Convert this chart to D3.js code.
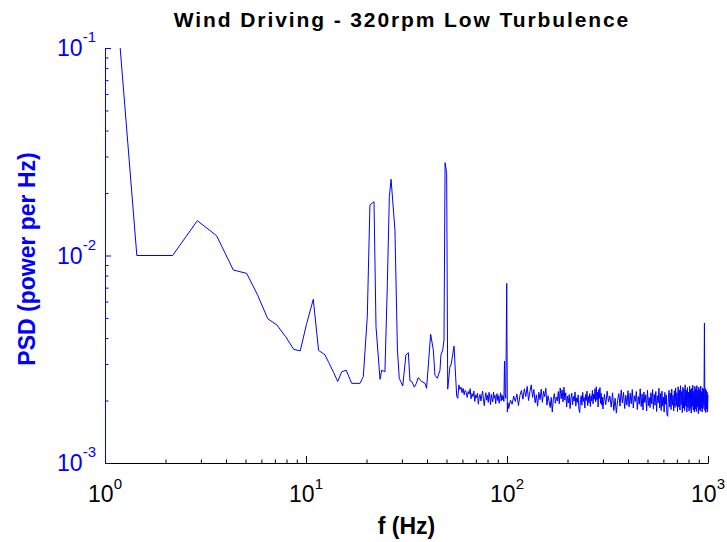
<!DOCTYPE html>
<html>
<head>
<meta charset="utf-8">
<script src="https://cdn.jsdelivr.net/npm/d3@7"></script>
<style>
  body { margin: 0; background: #fff; }
  text { font-family: "Liberation Sans", Arial, sans-serif; }
</style>
</head>
<body>
<div id="chart"></div>
<script>
const width = 727;
const height = 542;

// low-frequency part, read point by point (Hz, power per Hz)
const lowFreq = [1.19, 1.44, 2.17, 2.88, 3.59, 4.35, 5.07, 5.74, 6.45, 7.17,
  7.92, 8.69, 9.36, 10.05, 10.87, 11.55, 12.43, 12.98, 13.72, 14.38,
  15.05, 15.84, 16.88, 18.56, 19.28, 20.18, 20.8, 21.79, 22.3, 23.35,
  23.8, 24.7, 25.4, 25.98, 26.5, 27.7, 28.5, 29.1, 30.3, 31.4,
  32.3, 32.9, 33.6, 34.6, 35.4, 36.2, 37.6, 39.1, 39.8, 41.7,
  43.0, 43.8, 45.0, 46.4, 46.9, 47.9, 48.6, 49.2, 50.1, 50.7,
  52.0, 52.8, 54.5, 56.2];
const lowPsd = [0.100, 0.0100, 0.0100, 0.01472, 0.01246, 0.00851, 0.00820, 0.00646, 0.00496, 0.00462,
  0.00406, 0.00353, 0.00347, 0.00465, 0.00615, 0.00349, 0.00332, 0.00305, 0.00273, 0.00247,
  0.00275, 0.00280, 0.00242, 0.00242, 0.00261, 0.00507, 0.0175, 0.01815, 0.00454, 0.00253,
  0.00280, 0.00275, 0.00734, 0.0192, 0.0233, 0.01327, 0.00351, 0.00256, 0.00235, 0.00331,
  0.00340, 0.00249, 0.00247, 0.00232, 0.00242, 0.00258, 0.00247, 0.00242, 0.00229, 0.00417,
  0.00351, 0.00265, 0.00256, 0.00280, 0.00331, 0.00351, 0.00392, 0.0280, 0.0249, 0.00227,
  0.00291, 0.00300, 0.00366, 0.00210];

// noise floor 56.9 - 96.5 Hz (bins every 0.72 Hz)
const noiseAStart = 56.9, noiseAStep = 0.72;
const noiseAPsd = [0.00205, 0.00238, 0.00226, 0.00232, 0.00218, 0.00229, 0.00213, 0.00224, 0.00219, 0.00207,
  0.00221, 0.00215, 0.00228, 0.00204, 0.00216, 0.00209, 0.00222, 0.00198, 0.00213, 0.00206,
  0.00217, 0.00192, 0.00208, 0.00214, 0.00199, 0.00211, 0.00222, 0.00203, 0.00189, 0.00207,
  0.00218, 0.00201, 0.00212, 0.00196, 0.00219, 0.00208, 0.00191, 0.00214, 0.00203, 0.00197,
  0.00220, 0.00205, 0.00212, 0.00193, 0.00209, 0.00216, 0.00200, 0.00211, 0.00194, 0.00207,
  0.00218, 0.00199, 0.00213, 0.00202, 0.00210, 0.00198];

// 100 Hz line
const spikeFreq = [97.2, 97.9, 98.6, 99.7, 100.4, 101.1];
const spikePsd = [0.00310, 0.00212, 0.00205, 0.00734, 0.00176, 0.00195];

// noise floor 102 - 300 Hz
const noiseBStart = 102, noiseBStep = 2;
const noiseBPsd = [0.00183, 0.00201, 0.00192, 0.00210, 0.00198, 0.00215, 0.00189, 0.00212, 0.00224, 0.00203,
  0.00228, 0.00209, 0.00234, 0.00200, 0.00221, 0.00238, 0.00207, 0.00226, 0.00195, 0.00213,
  0.00188, 0.00219, 0.00202, 0.00227, 0.00196, 0.00222, 0.00209, 0.00229, 0.00190, 0.00211,
  0.00198, 0.00185, 0.00207, 0.00176, 0.00203, 0.00216, 0.00194, 0.00208, 0.00199, 0.00221,
  0.00193, 0.00230, 0.00204, 0.00225, 0.00197, 0.00232, 0.00201, 0.00218, 0.00186, 0.00210,
  0.00195, 0.00214, 0.00183, 0.00205, 0.00217, 0.00191, 0.00209, 0.00199, 0.00220, 0.00188,
  0.00206, 0.00196, 0.00213, 0.00181, 0.00175, 0.00202, 0.00211, 0.00190, 0.00219, 0.00198,
  0.00207, 0.00184, 0.00214, 0.00200, 0.00222, 0.00189, 0.00209, 0.00195, 0.00216, 0.00187,
  0.00211, 0.00199, 0.00224, 0.00193, 0.00215, 0.00203, 0.00228, 0.00197, 0.00233, 0.00201,
  0.00219, 0.00186, 0.00226, 0.00205, 0.00231, 0.00194, 0.00217, 0.00190, 0.00208, 0.00182];

// noise floor 305 - 1000 Hz (includes the line near 960 Hz)
const noiseCStart = 305, noiseCStep = 5;
const noiseCPsd = [0.00214, 0.00191, 0.00222, 0.00197, 0.00210, 0.00186, 0.00218, 0.00179, 0.00205, 0.00174,
  0.00200, 0.00216, 0.00188, 0.00225, 0.00195, 0.00219, 0.00183, 0.00212, 0.00190, 0.00223,
  0.00186, 0.00217, 0.00193, 0.00226, 0.00184, 0.00211, 0.00198, 0.00221, 0.00181, 0.00209,
  0.00192, 0.00228, 0.00187, 0.00215, 0.00180, 0.00220, 0.00196, 0.00213, 0.00178, 0.00224,
  0.00189, 0.00207, 0.00185, 0.00218, 0.00193, 0.00226, 0.00182, 0.00214, 0.00190, 0.00221,
  0.00177, 0.00211, 0.00195, 0.00229, 0.00184, 0.00216, 0.00179, 0.00222, 0.00188, 0.00208,
  0.00176, 0.00219, 0.00192, 0.00213, 0.00171, 0.00168, 0.00205, 0.00224, 0.00186, 0.00217,
  0.00181, 0.00227, 0.00190, 0.00212, 0.00178, 0.00223, 0.00185, 0.00230, 0.00189, 0.00218,
  0.00177, 0.00233, 0.00186, 0.00225, 0.00180, 0.00236, 0.00191, 0.00221, 0.00175, 0.00232,
  0.00184, 0.00227, 0.00179, 0.00238, 0.00188, 0.00224, 0.00176, 0.00231, 0.00185, 0.00219,
  0.00178, 0.00235, 0.00183, 0.00226, 0.00174, 0.00229, 0.00187, 0.00237, 0.00180, 0.00222,
  0.00176, 0.00234, 0.00182, 0.00228, 0.00177, 0.00236, 0.00186, 0.00224, 0.00173, 0.00232,
  0.00181, 0.00226, 0.00178, 0.00235, 0.00184, 0.00221, 0.00176, 0.00230, 0.00183, 0.00227,
  0.00190, 0.00473, 0.00179, 0.00228, 0.00175, 0.00224, 0.00182, 0.00219, 0.00176, 0.00213];

const xTicks = [1, 10, 100, 1000];
const xTickExp = ['0', '1', '2', '3'];
const yTicks = [1e-3, 1e-2, 1e-1];
const yTickExp = ['-3', '-2', '-1'];

const titleText = 'Wind Driving - 320rpm Low Turbulence';
const xLabelText = 'f (Hz)';
const yLabelText = 'PSD (power per Hz)';

// build the series
var series = [];
lowFreq.forEach((f, i) => series.push([f, lowPsd[i]]));
noiseAPsd.forEach((v, i) => series.push([noiseAStart + i * noiseAStep, v]));
spikeFreq.forEach((f, i) => series.push([f, spikePsd[i]]));
noiseBPsd.forEach((v, i) => series.push([noiseBStart + i * noiseBStep, v]));
noiseCPsd.forEach((v, i) => series.push([noiseCStart + i * noiseCStep, v]));

const margin = {left: 105, right: 19, top: 48, bottom: 79};
const x = d3.scaleLog().domain([1, 1000]).range([margin.left, width - margin.right]);
const y = d3.scaleLog().domain([1e-3, 1e-1]).range([height - margin.bottom, margin.top]);

const svg = d3.select('#chart').append('svg')
  .attr('width', width)
  .attr('height', height);

svg.append('clipPath').attr('id', 'plotClip')
  .append('rect')
  .attr('x', margin.left).attr('y', margin.top - 1)
  .attr('width', width - margin.left - margin.right + 1)
  .attr('height', height - margin.top - margin.bottom + 1);

//minor tick values
var xMinor = [];
[1, 10, 100].forEach(d => { for (var k = 2; k < 10; k++) xMinor.push(d * k); });
var yMinor = [];
[1e-3, 1e-2].forEach(d => { for (var k = 2; k < 10; k++) yMinor.push(d * k); });

//x axis (black, ticks inward)
const xAxisG = svg.append('g')
  .attr('transform', 'translate(0,' + y.range()[0] + ')');
xAxisG.call(d3.axisBottom(x).tickValues(xMinor).tickSizeInner(-3.5).tickSizeOuter(0).tickFormat(''));
xAxisG.append('g').call(d3.axisBottom(x).tickValues(xTicks).tickSizeInner(-7).tickSizeOuter(0).tickFormat(''))
  .select('.domain').remove();
xAxisG.selectAll('line, path').attr('stroke', '#000').attr('stroke-width', 1);

//y axis (blue, ticks inward)
const yAxisG = svg.append('g')
  .attr('transform', 'translate(' + x.range()[0] + ',0)');
yAxisG.call(d3.axisLeft(y).tickValues(yMinor).tickSizeInner(-3.5).tickSizeOuter(0).tickFormat(''));
yAxisG.append('g').call(d3.axisLeft(y).tickValues(yTicks).tickSizeInner(-6).tickSizeOuter(0).tickFormat(''))
  .select('.domain').remove();
yAxisG.selectAll('line, path').attr('stroke', '#0000ff').attr('stroke-width', 1);

//x tick labels 10^n
xTicks.forEach((t, i) => {
  var lbl = svg.append('text')
    .attr('x', x(t))
    .attr('y', y.range()[0] + 38.5)
    .attr('text-anchor', 'middle')
    .attr('fill', '#000')
    .style('font-size', '23px');
  lbl.append('tspan').text('10');
  lbl.append('tspan').attr('dy', -13).style('font-size', '15px').text(xTickExp[i]);
});

//y tick labels 10^n
yTicks.forEach((t, i) => {
  var lbl = svg.append('text')
    .attr('x', x.range()[0] - 9)
    .attr('y', y(t) + 8)
    .attr('text-anchor', 'end')
    .attr('fill', '#0000ff')
    .style('font-size', '23px');
  lbl.append('tspan').text('10');
  lbl.append('tspan').attr('dy', -14).style('font-size', '15px').text(yTickExp[i]);
});

//the PSD line
svg.append('path')
  .datum(series)
  .attr('clip-path', 'url(#plotClip)')
  .attr('fill', 'none')
  .attr('stroke', '#0000ff')
  .attr('stroke-width', 1)
  .attr('stroke-linejoin', 'round')
  .attr('d', d3.line().x(d => x(d[0])).y(d => y(d[1])));

//title and axis labels
svg.append('text')
  .attr('x', 402)
  .attr('y', 27)
  .attr('text-anchor', 'middle')
  .style('font-size', '21px')
  .style('font-weight', 'bold')
  .style('letter-spacing', '1.9px')
  .text(titleText);

svg.append('text')
  .attr('x', (x.range()[0] + x.range()[1]) / 2)
  .attr('y', 534)
  .attr('text-anchor', 'middle')
  .style('font-size', '23px')
  .style('font-weight', 'bold')
  .text(xLabelText);

svg.append('text')
  .attr('transform', 'translate(35,' + 259 + ') rotate(-90)')
  .attr('text-anchor', 'middle')
  .attr('fill', '#0000ff')
  .style('font-size', '23px')
  .style('font-weight', 'bold')
  .text(yLabelText);
</script>
</body>
</html>
